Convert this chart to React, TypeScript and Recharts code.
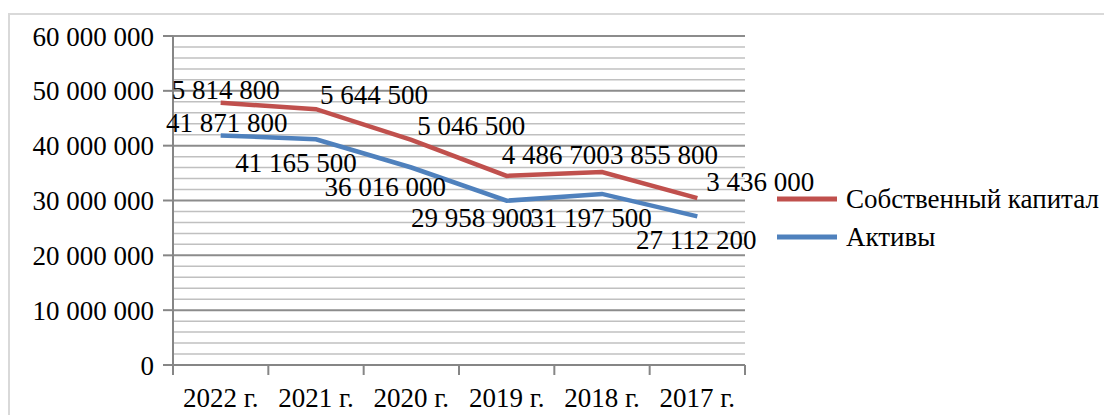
import React from 'react';
import { LineChart, Line, XAxis, YAxis, CartesianGrid, Legend, LabelList, ReferenceLine } from 'recharts';

const years = ['2022 г.', '2021 г.', '2020 г.', '2019 г.', '2018 г.', '2017 г.'];
const capital = [47814800, 46644500, 41046500, 34486700, 35200000, 30436000];
const assets = [41871800, 41165500, 36016000, 29958900, 31197500, 27112200];
const capitalLabels = ['5 814 800', '5 644 500', '5 046 500', '4 486 700', '3 855 800', '3 436 000'];
const assetLabels = ['41 871 800', '41 165 500', '36 016 000', '29 958 900', '31 197 500', '27 112 200'];
const yTicks = [0, 10000000, 20000000, 30000000, 40000000, 50000000, 60000000];
const yMinorTicks = [
  2000000, 4000000, 6000000, 8000000, 12000000, 14000000, 16000000, 18000000,
  22000000, 24000000, 26000000, 28000000, 32000000, 34000000, 36000000,
  38000000, 42000000, 44000000, 46000000, 48000000, 52000000, 54000000,
  56000000, 58000000,
];

const SERIES_CAPITAL = 'Собственный капитал';
const SERIES_ASSETS = 'Активы';

const data = years.map((y, i) => ({ year: y, capital: capital[i], assets: assets[i] }));

const FONT = 'Liberation Serif';
const BASE_FS = 20;
const K = 1.35; // rendered size 27px
const RED = '#C0504D';
const BLUE = '#4F81BD';
const AXIS = '#868686';
const PAD = 47.67;
const X_TICK = 10;
const X_MARGIN = 13;

const capOffsets = [[5, -13], [58, -14], [60, -14], [49, -21], [62, -17], [63, -16]];
const assetOffsets = [[6, -12], [-20, 24], [-26, 19], [-35, 17], [-11, 24], [-1, 24]];

const fmt = (v: number) => String(v).replace(/\B(?=(\d{3})+(?!\d))/g, ' ');

const SText = ({ x, y, anchor = 'middle', baseline, dy, children }: any) => (
  <g transform={`translate(${x},${y}) scale(${K})`}>
    <text
      x={0}
      y={0}
      dy={dy}
      textAnchor={anchor}
      dominantBaseline={baseline}
      fontFamily={FONT}
      fontSize={BASE_FS}
      fill="#000"
    >
      {children}
    </text>
  </g>
);

const makeLabel = (labels: string[], offsets: number[][]) => (props: any) => {
  const { x, y, index } = props;
  const [dx, dy] = offsets[index];
  return (
    <SText x={x + dx} y={y + dy} baseline="central">
      {labels[index]}
    </SText>
  );
};

const CatTick = (props: any) => {
  const { x, y, payload, index, visibleTicksCount } = props;
  const axisY = y - X_TICK - X_MARGIN;
  const isLast = index === visibleTicksCount - 1;
  return (
    <g>
      <line x1={x - PAD} y1={axisY} x2={x - PAD} y2={axisY + X_TICK} stroke={AXIS} strokeWidth={2} />
      {isLast && (
        <line x1={x + PAD} y1={axisY} x2={x + PAD} y2={axisY + X_TICK} stroke={AXIS} strokeWidth={2} />
      )}
      <SText x={x} y={y} dy="0.71em">
        {payload.value}
      </SText>
    </g>
  );
};

const YTick = (props: any) => {
  const { x, y, payload } = props;
  return (
    <SText x={x} y={y} dy="0.355em" anchor="end">
      {fmt(payload.value)}
    </SText>
  );
};

const LegendContent = () => {
  const items = [
    { name: SERIES_CAPITAL, color: RED },
    { name: SERIES_ASSETS, color: BLUE },
  ];
  return (
    <svg width={330} height={80} style={{ display: 'block', overflow: 'visible' }}>
      {items.map((it, i) => (
        <g key={it.name}>
          <line x1={0} y1={19 + i * 38} x2={60} y2={19 + i * 38} stroke={it.color} strokeWidth={5} />
          <SText x={69} y={19 + i * 38} anchor="start" baseline="central">
            {it.name}
          </SText>
        </g>
      ))}
    </svg>
  );
};

export default function App() {
  return (
    <div style={{ position: 'relative', width: 1104, height: 415, overflow: 'hidden', background: '#fff' }}>
      <style>{`body{margin:0;overflow:hidden}`}</style>
      <div
        style={{
          position: 'absolute',
          left: 8,
          top: 13,
          width: 1200,
          height: 500,
          borderTop: '2px solid #d9d9d9',
          borderLeft: '2px solid #d9d9d9',
        }}
      />
      <div style={{ position: 'absolute', left: 0, top: 0 }}>
        <LineChart width={1104} height={415} data={data} margin={{ top: 36, right: 359, bottom: 0, left: 0 }}>
          <CartesianGrid yAxisId="left" xAxisId="cat" vertical={false} stroke="#8c8c8c" strokeWidth={2} />
          {yMinorTicks.map((t) => (
            <ReferenceLine key={t} yAxisId="left" xAxisId="cat" y={t} stroke="#c0c0c0" strokeWidth={1.5} />
          ))}
          <XAxis
            xAxisId="cat"
            dataKey="year"
            height={50}
            padding={{ left: PAD, right: PAD }}
            axisLine={{ stroke: AXIS, strokeWidth: 2 }}
            tickLine={false}
            tickSize={X_TICK}
            tickMargin={X_MARGIN}
            interval={0}
            tick={<CatTick />}
          />
          <YAxis
            yAxisId="left"
            domain={[0, 60000000]}
            ticks={yTicks}
            width={173}
            tickSize={10}
            tickMargin={9}
            interval={0}
            axisLine={{ stroke: AXIS, strokeWidth: 2 }}
            tickLine={{ stroke: AXIS, strokeWidth: 2 }}
            tick={<YTick />}
          />
          <Legend
            layout="horizontal"
            align="center"
            verticalAlign="middle"
            content={() => <LegendContent />}
            wrapperStyle={{ left: 777, top: 180, width: 330, height: 80 }}
          />
          <Line
            xAxisId="cat"
            yAxisId="left"
            dataKey="capital"
            name={SERIES_CAPITAL}
            stroke={RED}
            strokeWidth={4.5}
            dot={false}
            isAnimationActive={false}
          >
            <LabelList dataKey="capital" content={makeLabel(capitalLabels, capOffsets)} />
          </Line>
          <Line
            xAxisId="cat"
            yAxisId="left"
            dataKey="assets"
            name={SERIES_ASSETS}
            stroke={BLUE}
            strokeWidth={4.5}
            dot={false}
            isAnimationActive={false}
          >
            <LabelList dataKey="assets" content={makeLabel(assetLabels, assetOffsets)} />
          </Line>
        </LineChart>
      </div>
    </div>
  );
}
